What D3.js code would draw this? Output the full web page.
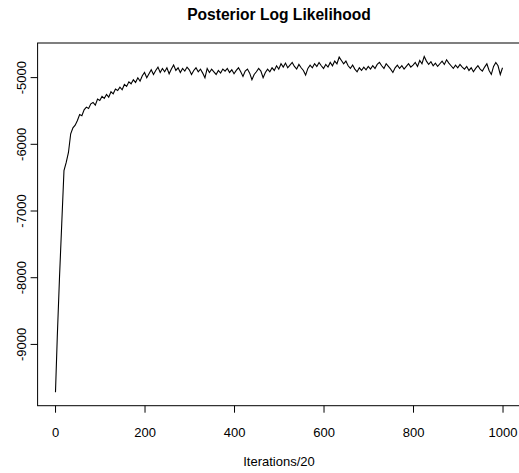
<!DOCTYPE html>
<html>
<head>
<meta charset="utf-8">
<script src="https://cdn.jsdelivr.net/npm/d3@7"></script>
<style>
  body { margin: 0; background: #fff; }
  svg text { font-family: "Liberation Sans", Arial, sans-serif; fill: #000; }
</style>
</head>
<body>
<div class="chart"></div>
<script>
// iteration index (x) -- first sample plus every 5th
const iterations = [1].concat(d3.range(5, 1001, 5));

// posterior log likelihood
const logLik = [
  -9725, -8900, -8000, -7200, -6400, -6280, -6130, -5850, -5760, -5720,
  -5650, -5560, -5580, -5490, -5450, -5470, -5400, -5380, -5420, -5330,
  -5350, -5290, -5320, -5260, -5300, -5220, -5250, -5180, -5200, -5150,
  -5190, -5110, -5140, -5070, -5100, -5040, -5080, -5010, -5060, -4980,
  -4930, -5010, -4950, -4890, -4960, -4900, -4850, -4930, -4870, -4920,
  -4860, -4950, -4880, -4820, -4900, -4860, -4930, -4870, -4910, -4850,
  -4890, -4960, -4900, -4860, -4920, -4880, -4940, -5010, -4870, -4930,
  -4880, -4920, -4960, -4900, -4940, -4880, -4910, -4870, -4930, -4890,
  -4950, -4900, -4860, -4920, -4990, -4910, -4880, -4940, -5040, -4960,
  -4920, -4870, -4910, -5010, -4930, -4880, -4920, -4860, -4900, -4830,
  -4880, -4800, -4850, -4790, -4860, -4820, -4780, -4840, -4880, -4810,
  -4860, -4900, -4970, -4870, -4820, -4860, -4800, -4840, -4780, -4830,
  -4870, -4810, -4850, -4780, -4830, -4760, -4800, -4700, -4750, -4800,
  -4760, -4830, -4870, -4820, -4880, -4920, -4860, -4900, -4850, -4890,
  -4840, -4880, -4830, -4870, -4810, -4780, -4830, -4870, -4800, -4840,
  -4880, -4930, -4860, -4820, -4870, -4830, -4880, -4840, -4800, -4850,
  -4820, -4780, -4840, -4750, -4800, -4690, -4760, -4810, -4770, -4830,
  -4790, -4840, -4800, -4760, -4810, -4740, -4790, -4830, -4870, -4820,
  -4860, -4810, -4850, -4880, -4840, -4900, -4860, -4920, -4870, -4830,
  -4880, -4910, -4850, -4800, -4900, -4960, -4840, -4780, -4830, -4960,
  -4860
];

const xTicks = [0, 200, 400, 600, 800, 1000];
const yTicks = [-9000, -8000, -7000, -6000, -5000];

const width = 519, height = 473;
const plot = { left: 37.6, right: 520.4, top: 43, bottom: 405.7 };

const data = iterations.map((it, i) => ({ it: it, v: logLik[i] }));

// R style 4% padding on both axes
function padded(ext) {
  const p = (ext[1] - ext[0]) * 0.04;
  return [ext[0] - p, ext[1] + p];
}

const x = d3.scaleLinear()
  .domain(padded(d3.extent(iterations)))
  .range([plot.left, plot.right]);
const y = d3.scaleLinear()
  .domain(padded(d3.extent(logLik)))
  .range([plot.bottom, plot.top]);

const svg = d3.select(".chart").append("svg")
  .attr("width", width)
  .attr("height", height);

// trace
svg.append("path")
  .datum(data)
  .attr("fill", "none")
  .attr("stroke", "#000")
  .attr("stroke-width", 1.1)
  .attr("stroke-linejoin", "miter")
  .attr("d", d3.line().x(d => x(d.it)).y(d => y(d.v)));

// box
svg.append("rect")
  .attr("x", plot.left)
  .attr("y", plot.top)
  .attr("width", plot.right - plot.left)
  .attr("height", plot.bottom - plot.top)
  .attr("fill", "none")
  .attr("stroke", "#000")
  .attr("stroke-width", 1);

// x axis
const gx = svg.append("g")
  .attr("transform", "translate(0," + plot.bottom + ")")
  .call(d3.axisBottom(x).tickValues(xTicks).tickSize(7).tickSizeOuter(0)
    .tickFormat(d3.format("d")));
gx.select(".domain").remove();
gx.selectAll("line").attr("stroke", "#000");
gx.selectAll("text")
  .attr("y", 31)
  .attr("dy", 0)
  .style("font-size", "13px");

// y axis, labels rotated like R
const gy = svg.append("g")
  .attr("transform", "translate(" + plot.left + ",0)")
  .call(d3.axisLeft(y).tickValues(yTicks).tickSize(7).tickSizeOuter(0)
    .tickFormat(d => String(d)));
gy.select(".domain").remove();
gy.selectAll("line").attr("stroke", "#000");
gy.selectAll("text")
  .attr("transform", "rotate(-90)")
  .attr("x", 0)
  .attr("y", -12)
  .attr("dy", 0)
  .attr("text-anchor", "middle")
  .style("font-size", "13px");

// titles
svg.append("text")
  .attr("x", (plot.left + plot.right) / 2)
  .attr("y", 20)
  .attr("text-anchor", "middle")
  .style("font-size", "15.6px")
  .style("font-weight", "bold")
  .text("Posterior Log Likelihood");

svg.append("text")
  .attr("x", (plot.left + plot.right) / 2)
  .attr("y", 466)
  .attr("text-anchor", "middle")
  .style("font-size", "13px")
  .text("Iterations/20");
</script>
</body>
</html>
